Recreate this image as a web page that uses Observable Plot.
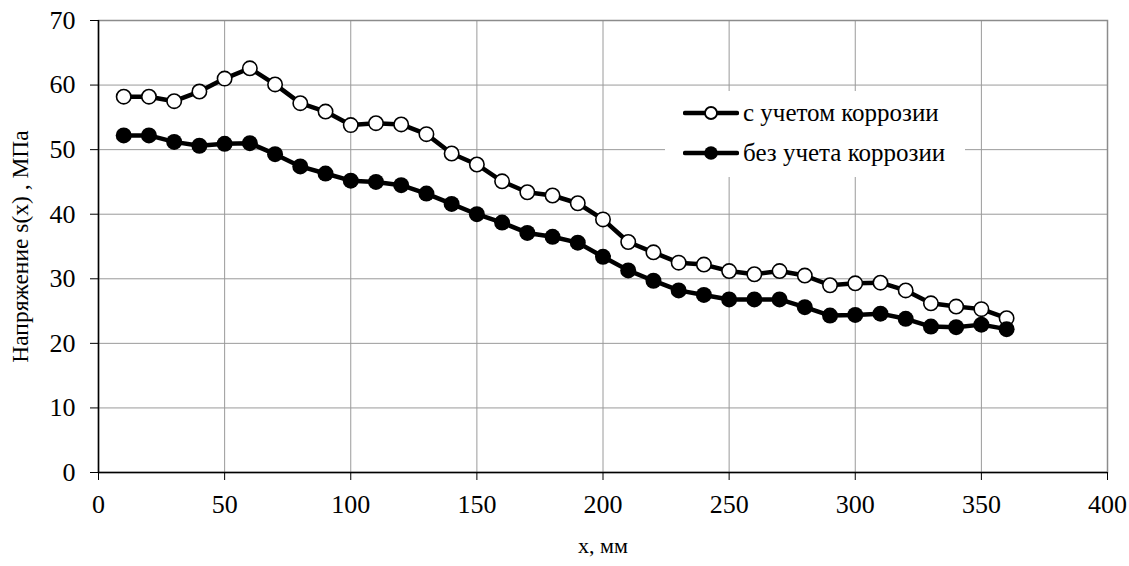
<!DOCTYPE html>
<html>
<head>
<meta charset="utf-8">
<script src="https://cdn.jsdelivr.net/npm/d3@7"></script>
<script src="https://cdn.jsdelivr.net/npm/@observablehq/plot@0.6"></script>
<style>
  html, body { margin: 0; padding: 0; background: #fff; }
  #wrap { position: relative; width: 1129px; height: 566px; }
  #chart svg, #chart svg text { font-family: "Liberation Serif", "Times New Roman", serif !important; }
  #legend { position: absolute; left: 665px; top: 91px; width: 300px; height: 86px; background: #fff;
            font-family: "Liberation Serif", "Times New Roman", serif; font-size: 25px; color: #000; }
  .row { position: absolute; left: 18px; height: 24px; display: flex; align-items: center; white-space: nowrap; }
  .row svg { margin-right: 4px; flex: none; }
</style>
</head>
<body>
<div id="wrap"><div id="chart"></div><div id="legend"></div></div>
<script>
const xs = [10,20,30,40,50,60,70,80,90,100,110,120,130,140,150,160,170,180,190,200,210,220,230,240,250,260,270,280,290,300,310,320,330,340,350,360];
const withCorrosion = [58.2,58.2,57.5,59.0,61.0,62.6,60.1,57.2,55.9,53.8,54.1,53.9,52.4,49.4,47.7,45.1,43.4,42.9,41.7,39.2,35.7,34.1,32.5,32.2,31.2,30.7,31.2,30.5,29.0,29.3,29.4,28.2,26.2,25.7,25.3,23.9];
const withoutCorrosion = [52.2,52.2,51.2,50.6,50.9,51.0,49.3,47.4,46.3,45.2,45.0,44.5,43.2,41.6,40.0,38.7,37.1,36.5,35.6,33.4,31.3,29.7,28.2,27.5,26.8,26.8,26.8,25.6,24.3,24.4,24.6,23.8,22.6,22.5,22.9,22.2];
const seriesNames = ["с учетом коррозии", "без учета коррозии"];
const xTicks = [0,50,100,150,200,250,300,350,400];
const yTicks = [0,10,20,30,40,50,60,70];
const xLabel = "x, мм";
const yLabel = "Напряжение s(x) , МПа";

const open = xs.map((x, i) => ({x, y: withCorrosion[i]}));
const filled = xs.map((x, i) => ({x, y: withoutCorrosion[i]}));

const chart = Plot.plot({
  width: 1129,
  height: 566,
  marginLeft: 98,
  marginRight: 22,
  marginTop: 20,
  marginBottom: 94,
  style: {fontFamily: "'Liberation Serif', 'Times New Roman', serif", fontSize: "22px", background: "#fff", color: "#000"},
  x: {domain: [0, 400]},
  y: {domain: [0, 70]},
  marks: [
    Plot.gridX(xTicks, {stroke: "#9a9a9a", strokeOpacity: 1, strokeWidth: 1}),
    Plot.gridY(yTicks, {stroke: "#9a9a9a", strokeOpacity: 1, strokeWidth: 1}),
    Plot.frame({stroke: "#8c8c8c", strokeWidth: 1.5}),
    Plot.axisX(xTicks, {tickSize: 8, tickPadding: 14, stroke: "#000", fontSize: 26, label: null}),
    Plot.axisX({label: xLabel, ticks: [], tickSize: 0, fontSize: 22, labelAnchor: "center", labelArrow: "none", labelOffset: 80}),
    Plot.axisY(yTicks, {tickSize: 8, tickPadding: 15, stroke: "#000", fontSize: 26, label: null}),
    Plot.axisY({label: yLabel, ticks: [], tickSize: 0, fontSize: 23.5, labelAnchor: "center", labelArrow: "none", labelOffset: 87}),
    Plot.ruleX([0], {stroke: "#000", strokeWidth: 1.5}),
    Plot.ruleY([0], {stroke: "#000", strokeWidth: 1.5}),
    Plot.line(open, {x: "x", y: "y", stroke: "#000", strokeWidth: 4.5}),
    Plot.dot(open, {x: "x", y: "y", r: 7.2, fill: "#fff", stroke: "#000", strokeWidth: 1.6}),
    Plot.line(filled, {x: "x", y: "y", stroke: "#000", strokeWidth: 4.5}),
    Plot.dot(filled, {x: "x", y: "y", r: 8, fill: "#000", stroke: "none"})
  ]
});
document.getElementById("chart").appendChild(chart);

const legend = document.getElementById("legend");
seriesNames.forEach((name, i) => {
  const row = document.createElement("div");
  row.className = "row";
  row.style.top = (i === 0 ? 10 : 50) + "px";
  const fill = i === 0 ? "#fff" : "#000";
  row.innerHTML = `<svg width="56" height="20"><line x1="2" y1="10" x2="54" y2="10" stroke="#000" stroke-width="4.5" stroke-linecap="round"/><circle cx="28" cy="10" r="${i===0?6:6.8}" fill="${fill}" stroke="#000" stroke-width="${i===0?1.8:0}"/></svg><span>${name}</span>`;
  legend.appendChild(row);
});
</script>
</body>
</html>
